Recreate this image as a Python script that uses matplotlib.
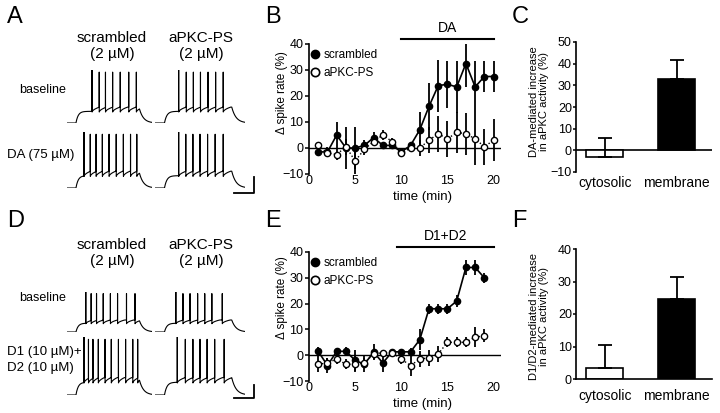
import numpy as np
import matplotlib
matplotlib.use('Agg')
import matplotlib.pyplot as plt
from matplotlib.lines import Line2D

plt.rcParams['font.family'] = ['Liberation Sans', 'DejaVu Sans']

W, H = 720.0, 413.0

# ---- data ----
# spike times (ms) of the example traces
spk_A = {
    ('scr', 'base'): [330, 410, 480, 560, 645, 740, 825],
    ('ps', 'base'): [300, 380, 455, 530, 610, 690, 770],
    ('scr', 'drug'): [240, 310, 375, 445, 520, 600, 680, 760, 830],
    ('ps', 'drug'): [300, 375, 450, 525, 605, 685, 770],
}
spk_D = {
    ('scr', 'base'): [260, 320, 380, 455, 535, 615, 715, 810],
    ('ps', 'base'): [270, 345, 420, 500, 575, 650, 760],
    ('scr', 'drug'): [240, 290, 340, 400, 475, 545, 625, 705, 785, 840],
    ('ps', 'drug'): [285, 370, 450, 525, 600, 680, 780],
}

time_B = np.arange(1, 21)
scr_B = [-1.5, -1.5, 5, 0, 0, 1, 4, 1, 1, -1.5, 1, 7, 16, 24, 24.5, 23.5, 32.5, 23.5, 27.5, 27.5]
scr_B_err = [1.5, 2, 5, 8, 8, 2, 2, 1.5, 1, 1, 1, 7, 9, 10, 9, 10, 9, 10, 6, 6]
ps_B = [1, -2, -2.5, 0.5, -5, -0.5, 2.5, 5, 2.5, -2, 0, 0, 3, 5.5, 3.5, 6, 5.5, 3.5, 0.5, 3]
ps_B_err = [1, 1.5, 2, 3, 5, 2, 1.5, 2, 1.5, 1.5, 1, 3, 5, 7, 7, 8, 8, 10, 7, 8]

time_E = np.arange(1, 20)
scr_E = [1.5, -4, 1.5, 1.5, -2, -3.5, 1.2, -3, 1.3, 1.3, 1.3, 6, 18, 18, 18, 21, 34, 34, 30]
scr_E_err = [1.5, 3, 1, 1.5, 4, 3, 3, 3.5, 1, 1, 1.5, 4, 2, 2, 2, 2.5, 3, 3, 2]
ps_E = [-3.5, -3, -1.5, -3.5, -3.5, -3, 0.5, 1, 1, -1.5, -4, -1.5, -1, 0.5, 5, 5, 5, 7, 7.5]
ps_E_err = [3, 2, 2, 2, 3, 2, 2, 1, 1, 2, 4, 3, 3, 3, 2, 2, 2, 4, 2.5]

cats = ['cytosolic', 'membrane']
C_vals = [-3, 33]
C_err = [8.5, 8.5]
F_vals = [3.5, 24.5]
F_err = [7, 7]

fig = plt.figure(figsize=(7.2, 4.13), dpi=100)


def add_ax(x0, x1, ytop, ybot):
    return fig.add_axes([x0 / W, 1 - ybot / H, (x1 - x0) / W, (ybot - ytop) / H])


# ---- traces ----
t = np.arange(50, 1000, 0.5)


def make_trace(spikes, plateau=11.0, on=150, off=860):
    v = np.zeros_like(t)
    s = (t >= on) & (t < off)
    v[s] = plateau * (1 - np.exp(-(t[s] - on) / 25.0))
    isi = np.mean(np.diff(spikes))
    for k, sp in enumerate(spikes):
        nxt = spikes[k + 1] if k + 1 < len(spikes) else off
        m = (t > sp) & (t < nxt)
        frac = np.clip((t[m] - sp) / isi, 0, 1)
        v[m] = plateau - 1 + 5 * np.sqrt(frac)
    for sp in spikes:
        i = np.argmin(np.abs(t - sp))
        v[i] = 50 if sp == spikes[0] else 48
    v_off = v[np.argmin(np.abs(t - off)) - 1]
    d = t >= off
    v[d] = v_off * np.exp(-(t[d] - off) / 45.0)
    return v


def trace_panel(spk, rows, sb):
    for (cond, ytop, ybot) in rows:
        for who, x0, x1 in [('scr', 67, 152), ('ps', 155, 245)]:
            ax = add_ax(x0, x1, ytop, ybot)
            ax.plot(t, make_trace(spk[(who, cond)]), color='k', lw=0.8)
            ax.set_xlim(50, 1000)
            ax.set_ylim(0, 50)
            ax.axis('off')
            if who == 'ps' and cond == 'drug':
                ax.plot([880, 1090, 1090], [sb[0], sb[0], sb[1]], color='k', lw=1.3, clip_on=False)


trace_panel(spk_A, [('base', 70, 123), ('drug', 132, 188)], (-4.5, 9.8))
trace_panel(spk_D, [('base', 292, 332), ('drug', 337, 395)], (-2.6, 8.6))

# trace headers
for y0 in (0, 207):
    fig.text(112 / W, 1 - (y0 + 38) / H, 'scrambled', ha='center', va='center', fontsize=11)
    fig.text(112 / W, 1 - (y0 + 54) / H, '(2 µM)', ha='center', va='center', fontsize=11)
    fig.text(201 / W, 1 - (y0 + 38) / H, 'aPKC-PS', ha='center', va='center', fontsize=11)
    fig.text(201 / W, 1 - (y0 + 54) / H, '(2 µM)', ha='center', va='center', fontsize=11)
fig.text(43 / W, 1 - 90 / H, 'baseline', ha='center', va='center', fontsize=9)
fig.text(7 / W, 1 - 155 / H, 'DA (75 µM)', ha='left', va='center', fontsize=9.5)
fig.text(43 / W, 1 - 298 / H, 'baseline', ha='center', va='center', fontsize=9)
fig.text(7 / W, 1 - 352 / H, 'D1 (10 µM)+', ha='left', va='center', fontsize=9.5)
fig.text(7 / W, 1 - 368 / H, 'D2 (10 µM)', ha='left', va='center', fontsize=9.5)


# ---- time course panels ----
def time_panel(ytop, ybot, tt, scr, scr_err, ps, ps_err, drug, bar, ylab_y):
    ax = add_ax(309, 501, ytop, ybot)
    ax.axhline(0, color='k', lw=1.0, zorder=1)
    ax.errorbar(tt, scr, yerr=scr_err, fmt='-o', color='k', mfc='k', mec='k', ms=4.5,
                lw=1.2, elinewidth=1.3, capsize=0, zorder=3)
    ax.errorbar(tt, ps, yerr=ps_err, fmt=':o', color='k', mfc='white', mec='k', ms=4.5,
                mew=1.0, lw=1.0, elinewidth=1.3, capsize=0, zorder=4)
    ax.set_xlim(0, 20.8)
    ax.set_ylim(-10, 40)
    ax.set_xticks([0, 5, 10, 15, 20])
    ax.set_yticks([-10, 0, 10, 20, 30, 40])
    for s in ['top', 'right', 'bottom']:
        ax.spines[s].set_visible(False)
    ax.spines['left'].set_linewidth(1.2)
    ax.tick_params(axis='y', direction='out', length=3, width=1.1, pad=1, labelsize=9)
    ax.tick_params(axis='x', length=0, pad=1, labelsize=9)
    ax.set_ylabel('Δ spike rate (%)', fontsize=8.5)
    ax.yaxis.set_label_coords(-0.11, ylab_y)
    ax.set_xlabel('time (min)', fontsize=9.5)
    ax.xaxis.set_label_coords(0.59, -0.13)
    ax.plot(bar, [42, 42], color='k', lw=1.5, clip_on=False)
    ax.text(np.mean(bar), 43.5, drug, ha='center', va='bottom', fontsize=10)
    hs = [Line2D([], [], marker='o', ls='', color='k', mfc='k', ms=6),
          Line2D([], [], marker='o', ls='', color='k', mfc='white', mew=1.2, ms=6)]
    ax.legend(hs, ['scrambled', 'aPKC-PS'], loc='upper left', bbox_to_anchor=(0.0, 0.98),
              frameon=False, handlelength=0.6, handletextpad=0.4, borderaxespad=0.1,
              borderpad=0.1, labelspacing=0.55, fontsize=8.5)
    return ax


time_panel(44, 174, time_B, scr_B, scr_B_err, ps_B, ps_B_err, 'DA', [10, 20], 0.63)
time_panel(252, 381, time_E, scr_E, scr_E_err, ps_E, ps_E_err, 'D1+D2', [9.5, 20], 0.65)


# ---- bar panels ----
def bar_panel(ytop, ybot, vals, errs, ylim, yticks, ylab, ylab_y, zero_spine, lab_fs, pad):
    ax = add_ax(576, 712, ytop, ybot)
    x = np.arange(len(vals))
    ax.bar(x, vals, width=0.52, color=['white', 'black'], edgecolor='k', linewidth=1.2, zorder=2)
    ax.errorbar(x, vals, yerr=[[0, 0], errs], fmt='none', ecolor='k', elinewidth=1.3,
                capsize=5, capthick=1.3, zorder=3)
    ax.set_xlim(-0.4, 1.49)
    ax.set_ylim(*ylim)
    ax.set_yticks(yticks)
    ax.set_xticks(x)
    ax.set_xticklabels(cats, fontsize=10)
    for s in ['top', 'right']:
        ax.spines[s].set_visible(False)
    ax.spines['left'].set_linewidth(1.2)
    if zero_spine:
        ax.spines['bottom'].set_linewidth(1.2)
    else:
        ax.spines['bottom'].set_visible(False)
        ax.axhline(0, color='k', lw=1.2, zorder=1)
    ax.tick_params(axis='y', direction='out', length=2, width=1.1, pad=1, labelsize=9)
    ax.tick_params(axis='x', length=0, pad=pad)
    ax.set_ylabel(ylab, fontsize=lab_fs, linespacing=1.0)
    ax.yaxis.set_label_coords(-0.2, ylab_y)
    return ax


bar_panel(42, 172, C_vals, C_err, (-10, 50), [-10, 0, 10, 20, 30, 40, 50],
          'DA-mediated increase\nin aPKC activity (%)', 0.54, False, 8, 3)
bar_panel(249, 379, F_vals, F_err, (0, 40), [0, 10, 20, 30, 40],
          'D1/D2-mediated increase\nin aPKC activity (%)', 0.48, True, 8, 7)

# panel letters
for lab, x, y in [('A', 7, 6), ('B', 265, 6), ('C', 512, 6),
                  ('D', 7, 210), ('E', 265, 210), ('F', 512, 210)]:
    fig.text(x / W, 1 - y / H, lab, ha='left', va='top', fontsize=17)

fig.savefig('out.png', dpi=100)
